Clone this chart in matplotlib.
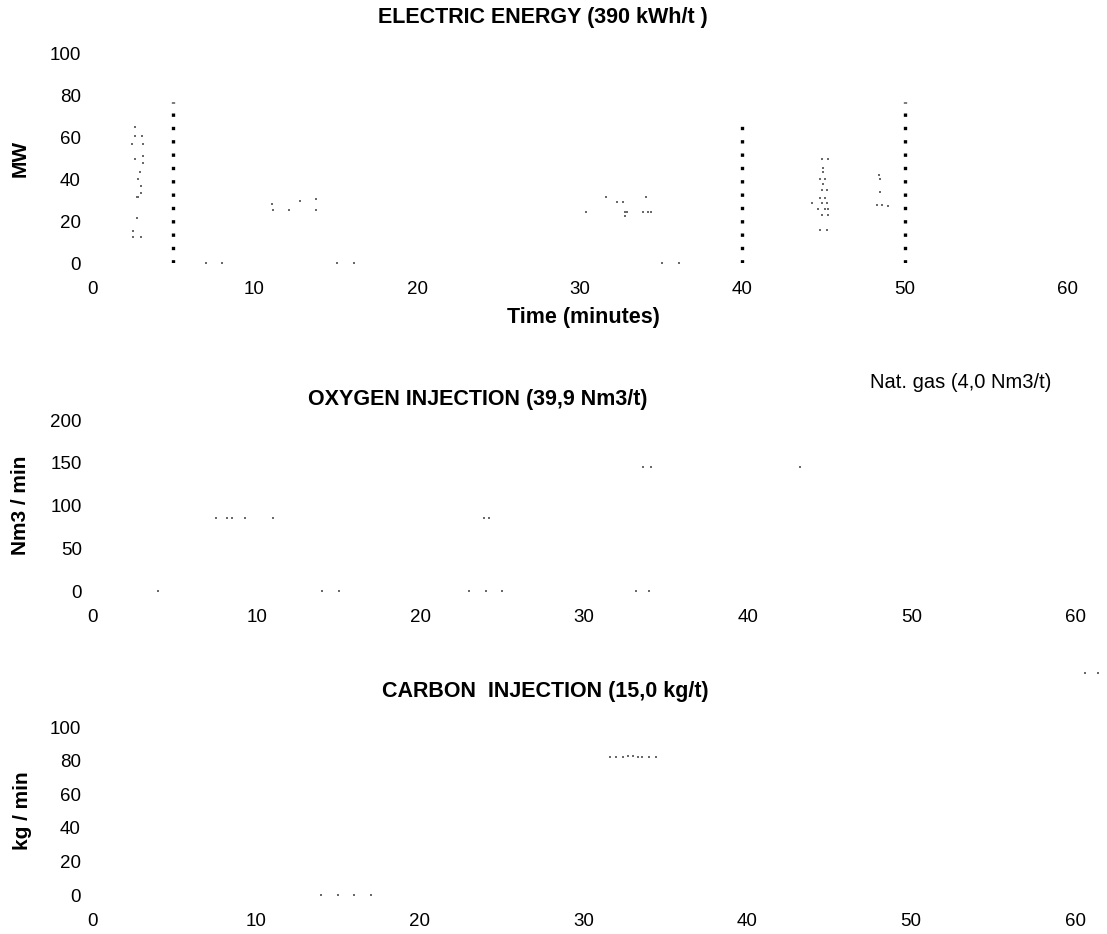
import numpy as np
import matplotlib
matplotlib.use("Agg")
import matplotlib.pyplot as plt

plt.rcParams['font.family'] = ['Liberation Sans', 'DejaVu Sans']

# electric energy (MW) - scattered remains of the trace
elec_t = [2.65, 2.65, 3.08, 2.46, 3.14, 2.65, 3.14, 3.14, 2.96, 2.83, 3.02, 3.02, 2.77, 2.85,
          2.77, 2.53, 2.53, 3.0, 7.0, 8.0,
          11.1, 11.15, 12.1, 12.8, 13.8, 13.8, 15.1, 16.1,
          30.4, 31.6, 32.3, 32.7, 32.8, 32.9, 32.8, 34.1, 33.9, 34.2, 34.4, 35.1, 36.1,
          44.9, 45.3, 45.0, 45.0, 44.8, 45.1, 45.0, 45.2, 44.9, 45.1, 44.8, 45.2, 44.3, 44.7,
          45.1, 44.9, 45.3, 44.8, 45.2, 44.9, 45.3, 45.0,
          48.4, 48.5, 48.5, 48.3, 48.6, 49.0]
elec_v = [65, 61, 61, 57, 57, 50, 51, 48, 43.5, 40, 37, 33.5, 31.6, 31.6,
          21.5, 15.3, 12.4, 12.4, 0, 0,
          28, 25.4, 25.4, 29.7, 30.6, 25.4, 0, 0,
          24.4, 31.6, 29.2, 29.2, 24.4, 24.4, 22.5, 31.6, 24.4, 24.4, 24.4, 0, 0,
          50, 50, 45.5, 43.5, 40, 40, 38, 35, 35, 31, 31, 28.7, 28.7, 26,
          26, 23, 23, 16, 16, 28.7, 26, 38,
          42, 40, 34, 27.7, 27.7, 27.3]
# dotted markers (charge / end of melting)
mark_t = [5, 40, 50]
mark_top = [77, 67, 77]

# oxygen injection (Nm3/min)
oxy_t = [7.5, 8.2, 8.5, 9.3, 11.0, 23.9, 24.2, 4.0, 14.0, 15.0, 23.0, 24.0, 25.0, 33.2, 34.0,
         33.6, 34.1, 43.2]
oxy_v = [85, 85, 85, 85, 85, 85, 85, 0, 0, 0, 0, 0, 0, 0, 0, 145, 145, 145]

# carbon injection (kg/min)
carb_t = [14.0, 15.0, 16.0, 17.0, 31.6, 32.0, 32.4, 32.7, 33.0, 33.3, 33.6, 34.0, 34.4]
carb_v = [0, 0, 0, 0, 82, 82, 82, 82.5, 82.5, 82, 82, 82, 82]
# stray remains of natural gas trace
gas_t = [60.6, 61.4]
gas_v = [132, 132]

W, H = 1107, 934
fig = plt.figure(figsize=(W / 100, H / 100), dpi=100)


def px_axes(x0, x1, y0, y1):
    # x0/x1: pixel of time 0/60, y0: pixel of lowest value, y1: pixel of top value
    return fig.add_axes([x0 / W, 1 - y0 / H, (x1 - x0) / W, (y0 - y1) / H])


def style(ax, ymax, ystep):
    ax.set_xlim(0, 60)
    ax.set_ylim(0, ymax)
    ax.set_xticks(range(0, 61, 10))
    ax.set_yticks(range(0, ymax + 1, ystep))
    for s in ax.spines.values():
        s.set_visible(False)
    ax.tick_params(length=0, labelsize=13.5)
    ax.tick_params(axis='x', pad=13)
    ax.tick_params(axis='y', pad=8)
    ax.patch.set_alpha(0)


ax1 = px_axes(92, 1067, 263, 54)
style(ax1, 100, 20)
ax1.plot(elec_t, elec_v, ls='none', marker='s', ms=1.6, mew=0, color='#6a6a6a', clip_on=False)
ax1.vlines(mark_t, 0, mark_top, colors='black', linestyles=(0, (1, 3.0)), linewidth=2.4)
ax1.set_ylabel('MW', fontsize=15, fontweight='bold')
ax1.yaxis.set_label_coords(-0.064, 0.5)

ax2 = px_axes(93, 1075, 591, 420)
style(ax2, 200, 50)
ax2.plot(oxy_t, oxy_v, ls='none', marker='s', ms=1.5, mew=0, color='#6a6a6a', clip_on=False)
ax2.set_ylabel('Nm3 / min', fontsize=15, fontweight='bold')
ax2.yaxis.set_label_coords(-0.064, 0.5)

ax3 = px_axes(92, 1075, 895, 727)
style(ax3, 100, 20)
ax3.plot(carb_t, carb_v, ls='none', marker='s', ms=1.5, mew=0, color='#6a6a6a', clip_on=False)
ax3.plot(gas_t, gas_v, ls='none', marker='s', ms=1.5, mew=0, color='#6a6a6a', clip_on=False)
ax3.set_ylabel('kg / min', fontsize=15, fontweight='bold')
ax3.yaxis.set_label_coords(-0.061, 0.5)

fig.text(543 / W, 1 - 18 / H, 'ELECTRIC ENERGY (390 kWh/t )', ha='center', va='center',
         fontsize=15.5, fontweight='bold')
fig.text(583 / W, 1 - 318 / H, 'Time (minutes)', ha='center', va='center',
         fontsize=15.5, fontweight='bold')
fig.text(478 / W, 1 - 400 / H, 'OXYGEN INJECTION (39,9 Nm3/t)', ha='center', va='center',
         fontsize=15.5, fontweight='bold')
fig.text(961 / W, 1 - 382 / H, 'Nat. gas (4,0 Nm3/t)', ha='center', va='center', fontsize=14.5)
fig.text(545 / W, 1 - 692 / H, 'CARBON  INJECTION (15,0 kg/t)', ha='center', va='center',
         fontsize=15.5, fontweight='bold')

fig.savefig('out.png', dpi=100, facecolor='white')
